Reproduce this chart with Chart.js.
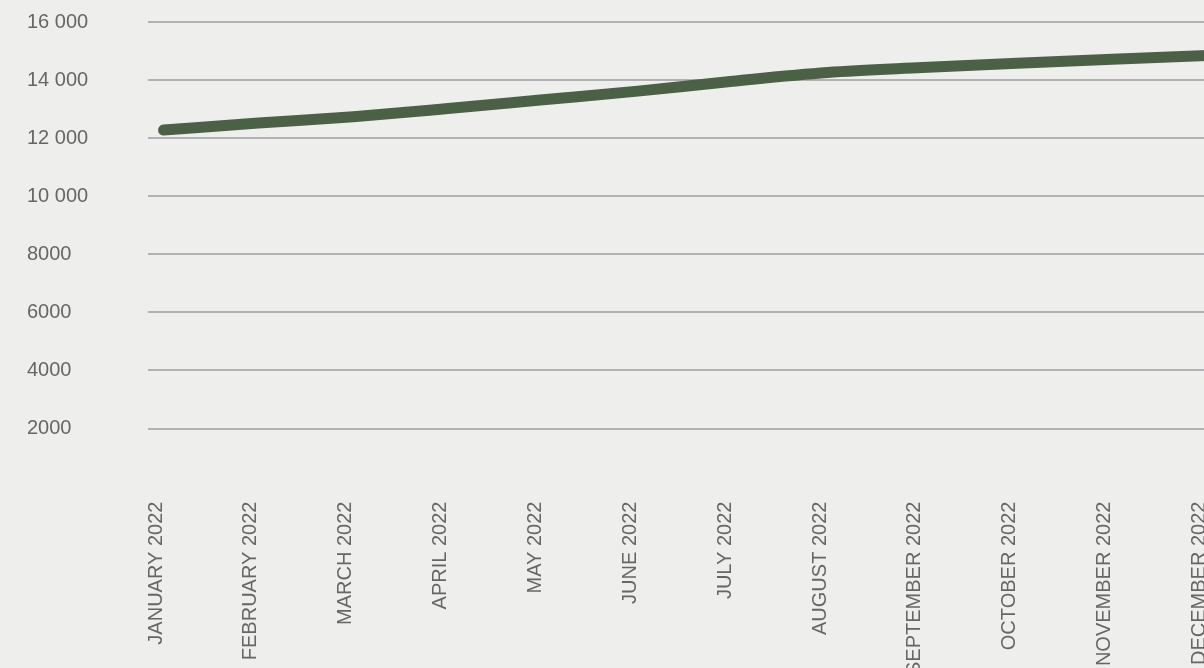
<!DOCTYPE html>
<html>
<head>
<meta charset="utf-8">
<title>Monthly trend 2022</title>
<script src="https://cdn.jsdelivr.net/npm/chart.js@4.4.0/dist/chart.umd.min.js"></script>
<style>
    html, body {
        margin: 0;
        padding: 0;
        background: #eeefec;
        overflow: hidden;
    }
    #wrap {
        position: relative;
        width: 1246px;
        height: 760px;
    }
</style>
</head>
<body>
<div id="wrap"><canvas id="trend-chart"></canvas></div>
<script>
// Categories (x axis)
const months = [
    'JANUARY 2022', 'FEBRUARY 2022', 'MARCH 2022', 'APRIL 2022',
    'MAY 2022', 'JUNE 2022', 'JULY 2022', 'AUGUST 2022',
    'SEPTEMBER 2022', 'OCTOBER 2022', 'NOVEMBER 2022', 'DECEMBER 2022'
];

// Series values
const values = [12280, 12520, 12740, 13020, 13320, 13620, 13960, 14260, 14430, 14580, 14720, 14850];

// Y tick labels (0 is not shown)
const yTickValues = [2000, 4000, 6000, 8000, 10000, 12000, 14000, 16000];
const yTickLabels = ['2000', '4000', '6000', '8000', '10 000', '12 000', '14 000', '16 000'];

const lineColor = '#4a6146';
const gridColor = '#b2b2b6';
const textColor = '#666666';

const ctx = document.getElementById('trend-chart').getContext('2d');

new Chart(ctx, {
    type: 'line',
    data: {
        datasets: [{
            data: values.map((v, i) => ({ x: i, y: v })),
            borderColor: lineColor,
            borderWidth: 11,
            borderCapStyle: 'round',
            borderJoinStyle: 'round',
            pointRadius: 0,
            cubicInterpolationMode: 'monotone',
            fill: false
        }]
    },
    options: {
        responsive: true,
        maintainAspectRatio: false,
        animation: false,
        layout: { padding: { left: 27, top: 22, right: 0, bottom: 0 } },
        plugins: {
            legend: { display: false },
            tooltip: { enabled: false }
        },
        scales: {
            x: {
                type: 'linear',
                min: -0.164,
                max: 11.3,
                grid: { display: false, drawTicks: false },
                border: { display: false },
                ticks: {
                    stepSize: 1,
                    autoSkip: false,
                    includeBounds: false,
                    minRotation: 90,
                    maxRotation: 90,
                    labelOffset: -7.5,
                    padding: 15,
                    color: textColor,
                    font: { family: '"Liberation Sans", Arial, sans-serif', size: 20 },
                    callback: (value) => months[value] ?? ''
                },
                afterFit: (scale) => { scale.height = 760 - 486.6; }
            },
            y: {
                min: 0,
                max: 16000,
                grid: {
                    drawTicks: false,
                    lineWidth: 2,
                    color: (c) => (c.tick && c.tick.value === 0) ? 'rgba(0,0,0,0)' : gridColor
                },
                border: { display: false },
                ticks: {
                    stepSize: 2000,
                    crossAlign: 'far',
                    padding: 0,
                    color: textColor,
                    font: { family: '"Liberation Sans", Arial, sans-serif', size: 20 },
                    callback: (value) => {
                        const k = yTickValues.indexOf(value);
                        return k === -1 ? '' : yTickLabels[k];
                    }
                },
                afterFit: (scale) => { scale.width = 148 - 27; }
            }
        }
    }
});
</script>
</body>
</html>
